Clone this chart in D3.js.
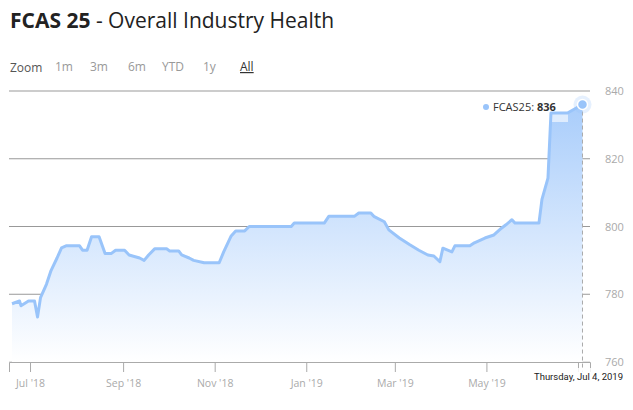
<!DOCTYPE html>
<html><head><meta charset="utf-8">
<script src="https://cdn.jsdelivr.net/npm/d3@7"></script>
<style>
body{margin:0;background:#fff;font-family:"Open Sans",sans-serif;}
</style></head>
<body>
<svg id="chart" width="633" height="410"></svg>
<script>
// FCAS 25 values
var dates = ["2018-06-19","2018-06-24","2018-06-25","2018-06-30","2018-07-04","2018-07-06","2018-07-08","2018-07-12","2018-07-15","2018-07-19","2018-07-22","2018-07-25","2018-08-03","2018-08-05","2018-08-08","2018-08-11","2018-08-16","2018-08-20","2018-08-24","2018-08-27","2018-09-02","2018-09-05","2018-09-12","2018-09-15","2018-09-18","2018-09-22","2018-09-30","2018-10-02","2018-10-08","2018-10-10","2018-10-15","2018-10-18","2018-10-25","2018-11-04","2018-11-07","2018-11-12","2018-11-15","2018-11-21","2018-11-24","2018-12-22","2018-12-24","2019-01-13","2019-01-16","2019-02-02","2019-02-05","2019-02-13","2019-02-15","2019-02-22","2019-02-25","2019-03-04","2019-03-11","2019-03-17","2019-03-23","2019-03-27","2019-03-31","2019-04-02","2019-04-08","2019-04-10","2019-04-20","2019-04-23","2019-04-30","2019-05-06","2019-05-11","2019-05-14","2019-05-18","2019-05-20","2019-06-05","2019-06-07","2019-06-11","2019-06-13","2019-06-24","2019-07-04"];
var values = [777.2,778,776.6,778,778,773.3,779,783,787,790.7,793.7,794.3,794.3,793,793,797,797,792,792,793,793,791.6,790.7,790,791.6,793.4,793.4,792.8,792.8,791.6,790.7,790,789.3,789.3,792.5,797.2,798.7,798.7,800,800,801,801,803,803,804,804,803,801.4,799,796.6,794.6,793,791.6,791.3,789.6,793.6,792.5,794.3,794.3,795.2,796.6,797.5,799.5,800.5,802,801,801,808,814.3,833.5,833.5,836];
var yTicks = [760,780,800,820,840];
var xTickDates = ["2018-07-01","2018-09-01","2018-11-01","2019-01-01","2019-03-01","2019-05-01","2019-07-01"];
var zoomLabels = ["1m","3m","6m","YTD","1y","All"];

var parse = d3.timeParse("%Y-%m-%d");
var data = dates.map((d, i) => ({date: parse(d), value: values[i]}));

var svg = d3.select("#chart");
var plotLeft = 9, plotRight = 590, plotTop = 91, plotBottom = 362;

var x = d3.scaleTime().domain([parse("2018-06-17"), parse("2019-07-09")]).range([plotLeft, plotRight]);
var y = d3.scaleLinear().domain([760, 840]).range([plotBottom, plotTop]);

// title
var title = svg.append("text").attr("x", 10).attr("y", 28).attr("font-size", 21).attr("fill", "#222");
title.append("tspan").attr("font-weight", "bold").text("FCAS 25");
title.append("tspan").text(" - Overall Industry Health");

// range selector
svg.append("text").attr("x", 10).attr("y", 72).attr("font-size", 12).attr("fill", "#555").text("Zoom");
var zx = [55, 90, 128, 162, 203, 240];
zoomLabels.forEach((t, i) => {
  svg.append("text").attr("x", zx[i]).attr("y", 71).attr("font-size", 12)
    .attr("fill", t === "All" ? "#333" : "#999")
    .attr("text-decoration", t === "All" ? "underline" : null).text(t);
});

// grid
svg.append("g").selectAll("line").data(yTicks).enter().append("line")
  .attr("x1", plotLeft).attr("x2", plotRight).attr("y1", d => y(d)).attr("y2", d => y(d))
  .attr("stroke", d => d === 760 ? "#ccc" : "#999").attr("stroke-width", 1);

svg.append("g").selectAll("text").data(yTicks).enter().append("text")
  .attr("x", 605).attr("y", d => y(d) + 4).attr("font-size", 11).attr("fill", "#aaa").text(d => d);

// x axis
var xAxis = d3.axisBottom(x).tickValues(xTickDates.map(parse))
  .tickFormat(d3.timeFormat("%b '%y")).tickSizeOuter(0).tickSize(10);
var gx = svg.append("g").attr("transform", "translate(0," + plotBottom + ")").call(xAxis);
gx.select(".domain").attr("stroke", "#aaa");
gx.selectAll(".tick line").attr("stroke", "#aaa");
gx.selectAll(".tick text").attr("fill", "#aaa").attr("font-size", 10.5).attr("font-family", "Open Sans").attr("dy", "1.1em");
gx.selectAll(".tick").filter((d, i) => i === 6).select("text").remove();

// area gradient
var grad = svg.append("defs").append("linearGradient").attr("id", "g").attr("x1", 0).attr("x2", 0).attr("y1", 0).attr("y2", 1);
grad.append("stop").attr("offset", "0%").attr("stop-color", "#a9cdfb");
grad.append("stop").attr("offset", "100%").attr("stop-color", "#ffffff");

svg.append("path").datum(data)
  .attr("fill", "url(#g)")
  .attr("d", d3.area().x(d => x(d.date)).y0(plotBottom).y1(d => y(d.value)));

// tooltip background
var last = data[data.length - 1];
svg.append("rect").attr("x", 476).attr("y", 96).attr("width", 92).attr("height", 26)
  .attr("fill", "#fff").attr("opacity", 0.6);

svg.append("path").datum(data)
  .attr("fill", "none").attr("stroke", "#99c4fa").attr("stroke-width", 3)
  .attr("stroke-linejoin", "round")
  .attr("d", d3.line().x(d => x(d.date)).y(d => y(d.value)));

// crosshair
svg.append("line").attr("x1", x(last.date)).attr("x2", x(last.date))
  .attr("y1", y(last.value)).attr("y2", plotBottom + 10)
  .attr("stroke", "#aaa").attr("stroke-dasharray", "4,3");

svg.append("circle").attr("cx", x(last.date)).attr("cy", y(last.value)).attr("r", 9)
  .attr("fill", "#99c4fa").attr("opacity", 0.25);
svg.append("circle").attr("cx", x(last.date)).attr("cy", y(last.value)).attr("r", 5)
  .attr("fill", "#99c4fa").attr("stroke", "#fff").attr("stroke-width", 1.5);

// tooltip text
svg.append("circle").attr("cx", 486).attr("cy", 107).attr("r", 3).attr("fill", "#99c4fa");
var tt = svg.append("text").attr("x", 493).attr("y", 111).attr("font-size", 11).attr("fill", "#333");
tt.append("tspan").text("FCAS25: ");
tt.append("tspan").attr("font-weight", "bold").text(d3.format("d")(last.value));

// date label
svg.append("rect").attr("x", 527).attr("y", 368).attr("width", 100).attr("height", 17).attr("fill", "#fff").attr("opacity", 0.85);
svg.append("text").attr("x", 623).attr("y", 380).attr("text-anchor", "end").attr("font-size", 9.5).attr("fill", "#222")
  .attr("font-family", "Liberation Sans Narrow, Roboto")
  .text(d3.timeFormat("%A, %b %-d, %Y")(last.date));
</script>
</body></html>
